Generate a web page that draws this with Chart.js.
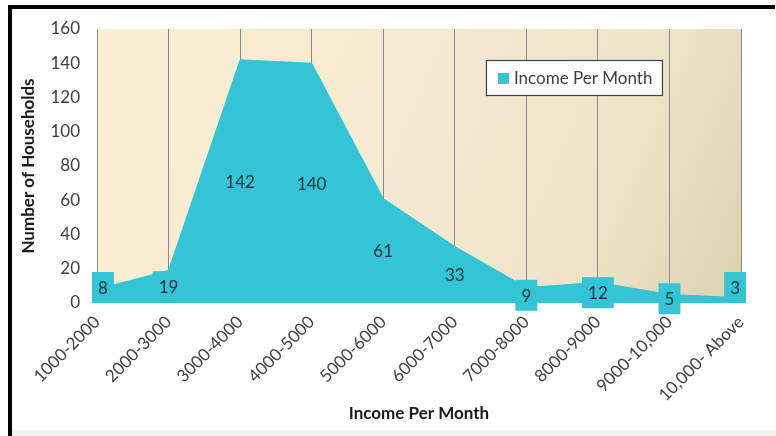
<!DOCTYPE html>
<html>
<head>
<meta charset="utf-8">
<script src="https://cdn.jsdelivr.net/npm/chart.js@4"></script>
<style>
  html, body { margin: 0; padding: 0; background: #ffffff; }
  #wrap { position: relative; width: 776px; height: 436px; }
  canvas { display: block; }
</style>
</head>
<body>
<div id="wrap"><canvas id="c" width="776" height="436"></canvas></div>
<script>
const categories = ['1000-2000', '2000-3000', '3000-4000', '4000-5000', '5000-6000',
                    '6000-7000', '7000-8000', '8000-9000', '9000-10,000', '10,000- Above'];
const households = [8, 19, 142, 140, 61, 33, 9, 12, 5, 3];
const seriesName = 'Income Per Month';
const yTicks = [0, 20, 40, 60, 80, 100, 120, 140, 160];

const CYAN = '#33c4d6';
const FONT = 'Lato, "Open Sans", sans-serif';

const framePlugin = {
  id: 'frame',
  beforeDraw(chart) {
    const ctx = chart.ctx;
    ctx.save();
    ctx.fillStyle = '#ffffff';
    ctx.fillRect(0, 0, chart.width, chart.height);
    ctx.fillStyle = '#f3f3f3';
    ctx.fillRect(12, 430, chart.width - 12, 6);
    ctx.fillStyle = '#000000';
    ctx.fillRect(8, 5, chart.width - 9, 4);
    ctx.fillRect(8, 5, 4, chart.height - 5);
    const a = chart.chartArea;
    const g = ctx.createLinearGradient(a.left, a.top, a.right, a.bottom);
    g.addColorStop(0, '#fdeed2');
    g.addColorStop(0.45, '#f5ead2');
    g.addColorStop(0.78, '#ece3c8');
    g.addColorStop(1, '#ddd0ae');
    ctx.fillStyle = g;
    ctx.fillRect(a.left, a.top, a.right - a.left, a.bottom - a.top);
    ctx.restore();
  }
};

const labelPlugin = {
  id: 'boxLabels',
  afterDatasetsDraw(chart) {
    const ctx = chart.ctx;
    const meta = chart.getDatasetMeta(0);
    const ys = chart.scales.y;
    const a = chart.chartArea;
    const data = chart.data.datasets[0].data;
    ctx.save();
    ctx.font = '17px ' + FONT;
    ctx.textAlign = 'center';
    ctx.textBaseline = 'middle';
    meta.data.forEach((pt, i) => {
      const v = data[i];
      const txt = String(v);
      const w = ctx.measureText(txt).width + 12;
      const h = 31;
      let cx = pt.x;
      let cy = ys.getPixelForValue(v / 2);
      if (i === 0 || i === data.length - 1) {
        if (cx - w / 2 < a.left - 5) cx = a.left - 5 + w / 2;
        if (cx + w / 2 > a.right + 5) cx = a.right + 5 - w / 2;
        if (cy + h / 2 > a.bottom) cy = a.bottom - h / 2;
      }
      ctx.fillStyle = CYAN;
      ctx.fillRect(cx - w / 2, cy - h / 2, w, h);
      ctx.fillStyle = '#1c3140';
      ctx.fillText(txt, cx, cy + 1);
    });
    ctx.restore();
  }
};

const legendPlugin = {
  id: 'innerLegend',
  afterDraw(chart) {
    const ctx = chart.ctx;
    const a = chart.chartArea;
    const x = a.left + (a.right - a.left) * 0.604;
    const y = a.top + 31;
    const w = 177, h = 36;
    ctx.save();
    ctx.fillStyle = '#ffffff';
    ctx.fillRect(x, y, w, h);
    ctx.strokeStyle = '#404040';
    ctx.lineWidth = 1.2;
    ctx.strokeRect(x + 0.5, y + 0.5, w - 1, h - 1);
    ctx.fillStyle = CYAN;
    ctx.fillRect(x + 12, y + 13, 11, 11);
    ctx.fillStyle = '#404040';
    ctx.font = '17px ' + FONT;
    ctx.textAlign = 'left';
    ctx.textBaseline = 'middle';
    ctx.fillText(chart.data.datasets[0].label, x + 28, y + h / 2 + 1);
    ctx.restore();
  }
};

new Chart(document.getElementById('c'), {
  type: 'line',
  data: {
    labels: categories,
    datasets: [{
      label: seriesName,
      data: households,
      fill: 'origin',
      backgroundColor: CYAN,
      borderColor: CYAN,
      borderWidth: 1,
      pointRadius: 0,
      tension: 0
    }]
  },
  options: {
    responsive: false,
    animation: false,
    devicePixelRatio: 1,
    layout: { padding: { left: 0, top: 29, right: 35, bottom: 0 } },
    plugins: { legend: { display: false }, tooltip: { enabled: false } },
    scales: {
      x: {
        offset: false,
        grid: { display: true, color: '#8a8a8a', lineWidth: 1, drawTicks: false },
        border: { display: false },
        ticks: {
          color: '#404040', font: { family: FONT, size: 17 },
          maxRotation: 45, minRotation: 45, padding: 9, autoSkip: false
        },
        title: {
          display: true, text: 'Income Per Month', color: '#1a1a1a',
          font: { family: FONT, size: 17, weight: 'bold' },
          padding: { top: 2, bottom: 12 }
        },
        afterFit(scale) { scale.height = 133; }
      },
      y: {
        min: 0, max: 160,
        afterBuildTicks(scale) { scale.ticks = yTicks.map(v => ({ value: v })); },
        grid: { display: false, drawTicks: false },
        border: { display: false },
        ticks: { color: '#404040', font: { family: FONT, size: 17 }, padding: 17 },
        title: {
          display: true, text: 'Number of Households', color: '#1a1a1a',
          font: { family: FONT, size: 17, weight: 'bold' },
          padding: { top: 18, bottom: 0 }
        },
        afterFit(scale) { scale.width = 97; }
      }
    }
  },
  plugins: [framePlugin, labelPlugin, legendPlugin]
});
</script>
</body>
</html>
